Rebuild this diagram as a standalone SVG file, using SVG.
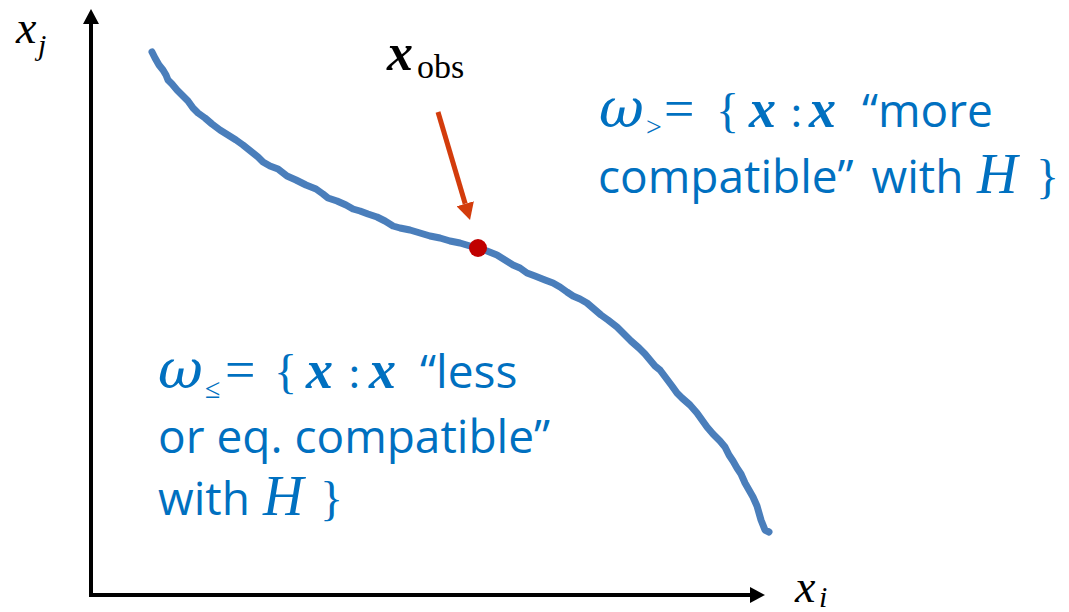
<svg xmlns="http://www.w3.org/2000/svg" width="1069" height="612" viewBox="0 0 1069 612">
<style>
.txt{font-family:"Open Sans","Noto Sans",sans-serif;font-size:46px;fill:#0070C0}
.mi{font-family:"Liberation Serif",serif;font-style:italic}
.mw{font-family:"DejaVu Serif",serif;font-style:italic}
.mb{font-family:"Liberation Serif",serif;font-style:italic;font-weight:bold}
.mr{font-family:"Liberation Serif",serif}
.blue{fill:#0070C0}
.blk{fill:#000}
.axis{stroke:#000;stroke-width:4;fill:none}
.curve{stroke:#4A7EBB;stroke-width:7;fill:none;stroke-linejoin:round;stroke-linecap:round}
</style>
<defs>
<marker id="ah" viewBox="0 -8 15 16" markerWidth="15" markerHeight="16" refX="0" refY="0" orient="auto" markerUnits="userSpaceOnUse">
<path d="M0,-8 L15,0 L0,8 z" fill="#000"/>
</marker>
<marker id="ao" viewBox="0 -9 17 18" markerWidth="17" markerHeight="18" refX="0" refY="0" orient="auto" markerUnits="userSpaceOnUse">
<path d="M0,-9 L17,0 L0,9 z" fill="#D33C0C"/>
</marker>
</defs>
<g id="connectors">
<line class="axis" x1="91" y1="597" x2="91" y2="24" marker-end="url(#ah)"/>
<line class="axis" x1="89" y1="595" x2="750" y2="595" marker-end="url(#ah)"/>
<line x1="438" y1="112" x2="465.2" y2="203.7" stroke="#D33C0C" stroke-width="5" marker-end="url(#ao)"/>
</g>
<g id="curve">
<polyline class="curve" points="152,52 155,58 159,65 163,70 166,75 168,80 172,84 177,90 183,96 188,101 193,108 198,113 205,118 212,124 220,130 228,135 236,140 243,145 248,149 253,153 258,157 263,162 270,166 278,169 287,176 296,180 306,185 316,189 323,194 328,198 337,201 346,205 353,209 360,211 368,214 377,217 385,221 393,226 400,228 410,230 420,233 430,236 440,238 450,241 460,243 470,246 478,248 487,251 497,255 505,260 513,265 520,268 527,273 535,276 545,280 553,283 560,287 567,292 573,296 580,299 587,303 594,309 601,315 608,320 617,327 624,334 631,341 639,348 645,354 650,360 655,366 660,370 666,378 672,386 677,393 682,398 690,405 697,413 702,420 707,427 713,434 720,441 725,447 729,455 733,461 737,468 741,474 745,483 749,490 753,497 757,506 759,513 761,520 763,525 765,530 769,532"/>
</g>
<g id="obs-point">
<circle cx="478" cy="248" r="9" fill="#C00000"/>
</g>
<g id="label-xj">
<text class="mi blk" x="16" y="43" font-size="46">x</text>
<text class="mi blk" x="38" y="55" font-size="30">j</text>
</g>
<g id="label-xi">
<text class="mi blk" x="795" y="602" font-size="46">x</text>
<text class="mi blk" x="819" y="607" font-size="30">i</text>
</g>
<g id="label-xobs">
<text class="mb blk" x="387" y="70" font-size="52">x</text>
<text class="mr blk" x="417" y="78" font-size="34">obs</text>
</g>
<g id="omega-greater">
<text class="mw blue" x="599" y="127" font-size="55">ω</text>
<text class="mr blue" x="646" y="136" font-size="28">&gt;</text>
<text class="mr blue" x="664" y="127" font-size="54">=</text>
<text class="mr blue" x="716" y="127" font-size="48">{</text>
<text class="mb blue" x="749" y="127" font-size="54">x</text>
<text class="mr blue" x="790" y="127" font-size="46">:</text>
<text class="mb blue" x="809" y="127" font-size="54">x</text>
<text class="txt" x="862" y="127">“more</text>
<text class="txt" x="598" y="193" word-spacing="6">compatible” with</text>
<text class="mi blue" x="977" y="193" font-size="56">H</text>
<text class="mr blue" x="1036" y="193" font-size="48">}</text>
</g>
<g id="omega-leq">
<text class="mw blue" x="158" y="388" font-size="55">ω</text>
<text class="mr blue" x="205" y="398" font-size="28">≤</text>
<text class="mr blue" x="225" y="388" font-size="54">=</text>
<text class="mr blue" x="274" y="388" font-size="48">{</text>
<text class="mb blue" x="306" y="388" font-size="54">x</text>
<text class="mr blue" x="348" y="388" font-size="46">:</text>
<text class="mb blue" x="369" y="388" font-size="54">x</text>
<text class="txt" x="420" y="388">“less</text>
<text class="txt" x="158" y="453">or eq. compatible”</text>
<text class="txt" x="158" y="515">with</text>
<text class="mi blue" x="263" y="515" font-size="56">H</text>
<text class="mr blue" x="320" y="515" font-size="48">}</text>
</g>
</svg>
